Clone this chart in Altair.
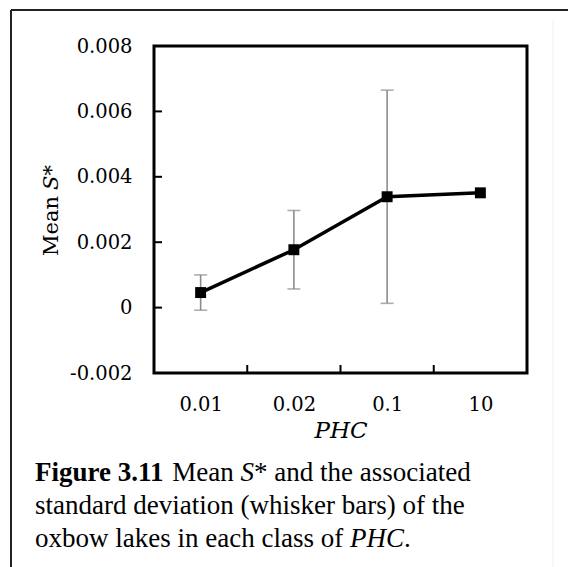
import altair as alt
import pandas as pd

# ---------------- data ----------------
phc = ["0.01", "0.02", "0.1", "10"]
mean_s = [0.00046, 0.00177, 0.00339, 0.00351]
sd_s = [0.00054, 0.00120, 0.00326, 0.0]
y_ticks = [-0.002, 0.0, 0.002, 0.004, 0.006, 0.008]

caption_lines = [
    [("Figure 3.11", "bold"), ("Mean", "normal"), ("S", "italic"), ("* and the associated", "normal")],
    [("standard deviation (whisker bars) of the", "normal")],
    [("oxbow lakes in each class of", "normal"), ("PHC", "italic"), (".", "normal")],
]

# ---------------- layout ----------------
W, H = 373, 327
PAD_L, PAD_T = 154, 46
CHART_FONT = "DejaVu Serif"
CAP_FONT = "Liberation Serif"
LBL = 19.5
CAP = 27

df = pd.DataFrame({
    "idx": list(range(1, len(phc) + 1)),
    "phc": phc,
    "mean": mean_s,
    "sd": sd_s,
})
df["low"] = df["mean"] - df["sd"]
df["high"] = df["mean"] + df["sd"]
err = df[df["sd"] > 0]

xs = alt.Scale(domain=[0.5, len(phc) + 0.5], nice=False, zero=False)
ys = alt.Scale(domain=[y_ticks[0], y_ticks[-1]], nice=False, zero=False)

label_map = "[" + ",".join("'%s'" % p for p in phc) + "][datum.value - 1]"

x_axis = alt.Axis(values=list(range(1, len(phc) + 1)), labelExpr=label_map,
                  title="PHC", titleFontStyle="italic", titleFontWeight="normal",
                  titleFont=CHART_FONT, titleFontSize=23, titleColor="black",
                  titlePadding=6,
                  labelFont=CHART_FONT, labelFontSize=LBL, labelColor="black",
                  labelPadding=22, ticks=False, tickSize=0, domain=False, grid=False)
y_axis = alt.Axis(values=y_ticks,
                  labelExpr="datum.value == 0 ? '0' : (datum.value < 0 ? '-' : '') + format(abs(datum.value), '.3f')",
                  title=None, labelFont=CHART_FONT, labelFontSize=LBL, labelColor="black",
                  labelPadding=22, ticks=False, tickSize=0, domain=False, grid=False)


def X(field):
    return alt.X(field, scale=xs, axis=x_axis)


def Y(field):
    return alt.Y(field, scale=ys, axis=y_axis)


base = alt.Chart(df)

line = base.mark_line(color="black", strokeWidth=3.5).encode(x=X("idx:Q"), y=Y("mean:Q"))
pts = base.mark_point(shape="square", filled=True, color="black", size=120, opacity=1).encode(
    x=X("idx:Q"), y=Y("mean:Q"))
ebar = alt.Chart(err).mark_rule(color="#8c8c8c", strokeWidth=1.6).encode(
    x=X("idx:Q"), y=Y("low:Q"), y2="high:Q")
cap_hi = alt.Chart(err).mark_tick(color="#8c8c8c", thickness=1.6, size=13, orient="horizontal").encode(
    x=X("idx:Q"), y=Y("high:Q"))
cap_lo = alt.Chart(err).mark_tick(color="#8c8c8c", thickness=1.6, size=13, orient="horizontal").encode(
    x=X("idx:Q"), y=Y("low:Q"))

# inward tick marks
ytick_df = pd.DataFrame({"v": y_ticks})
ytk = alt.Chart(ytick_df).mark_rule(color="black", strokeWidth=2).encode(
    y=Y("v:Q"), x=alt.value(0), x2=alt.value(8))
xb_df = pd.DataFrame({"b": [i + 0.5 for i in range(1, len(phc))]})
xtk = alt.Chart(xb_df).mark_rule(color="black", strokeWidth=2).encode(
    x=X("b:Q"), y=alt.value(H), y2=alt.value(H - 8))

# outer page frame
one = pd.DataFrame({"a": [0]})
frame_top = alt.Chart(one).mark_rule(color="#222", strokeWidth=2).encode(
    x=alt.value(11 - PAD_L), x2=alt.value(568 - PAD_L + 5), y=alt.value(10 - PAD_T))
frame_left = alt.Chart(one).mark_rule(color="#222", strokeWidth=2).encode(
    x=alt.value(11 - PAD_L), y=alt.value(10 - PAD_T), y2=alt.value(567 - PAD_T + 5))
frame_right = alt.Chart(one).mark_rule(color="#f0f0f0", strokeWidth=1).encode(
    x=alt.value(553 - PAD_L), y=alt.value(20 - PAD_T), y2=alt.value(567 - PAD_T + 5))

# y title (rotated, mixed style)
yt1 = alt.Chart(pd.DataFrame({"t": ["Mean"]})).mark_text(
    font=CHART_FONT, fontSize=21, angle=270, align="right", baseline="middle", color="black").encode(
    text="t:N", x=alt.value(52 - PAD_L), y=alt.value(196 - PAD_T))
yt2 = alt.Chart(pd.DataFrame({"t": ["S*"]})).mark_text(
    font=CHART_FONT, fontSize=21, fontStyle="italic", angle=270, align="left", baseline="middle", color="black").encode(
    text="t:N", x=alt.value(52 - PAD_L), y=alt.value(190 - PAD_T))

# caption, Times metrics (per 1000 em) for positioning the segments
REG = {" ": 250, "M": 889, "e": 444, "a": 444, "n": 500, "*": 500, "d": 500, "t": 278, "h": 500,
       "s": 389, "o": 500, "c": 444, "i": 278, "r": 333, "v": 500, "(": 333, ")": 333, "w": 722,
       "k": 500, "b": 500, "f": 333, "l": 278, "x": 500, ".": 250}
BOLD = {"F": 611, "i": 278, "g": 500, "u": 556, "r": 444, "e": 444, " ": 250, "3": 500, ".": 250, "1": 500}
ITAL = {"S": 500, "P": 611, "H": 722, "C": 667}


def seg_width(text, style):
    table = {"bold": BOLD, "italic": ITAL}.get(style, REG)
    return sum(table.get(ch, 500) for ch in text) * CAP / 1000.0


cap_layers = []
CAP_X = 35
CAP_BASE = [481, 514, 547]
for li, segs in enumerate(caption_lines):
    cx = CAP_X
    for si, (txt, style) in enumerate(segs):
        if si > 0 and not txt.startswith((".", "*")):
            cx += REG[" "] * CAP / 1000.0
        mk = dict(font=CAP_FONT, fontSize=CAP, align="left", baseline="alphabetic", color="black")
        if style == "bold":
            mk["fontWeight"] = "bold"
        if style == "italic":
            mk["fontStyle"] = "italic"
        cap_layers.append(
            alt.Chart(pd.DataFrame({"t": [txt]})).mark_text(**mk).encode(
                text="t:N", x=alt.value(cx - PAD_L), y=alt.value(CAP_BASE[li] - PAD_T)))
        cx += seg_width(txt, style)

chart = alt.layer(
    line, ebar, cap_hi, cap_lo, pts, ytk, xtk,
    frame_top, frame_left, frame_right, yt1, yt2, *cap_layers
).properties(
    width=W, height=H,
    autosize=alt.AutoSizeParams(type="none"),
    padding={"left": PAD_L, "top": PAD_T, "right": 568 - PAD_L - W, "bottom": 567 - PAD_T - H},
    background="white",
).configure_view(stroke="black", strokeWidth=3)

chart.save("out.html", embed_options={"renderer": "svg", "actions": False})
